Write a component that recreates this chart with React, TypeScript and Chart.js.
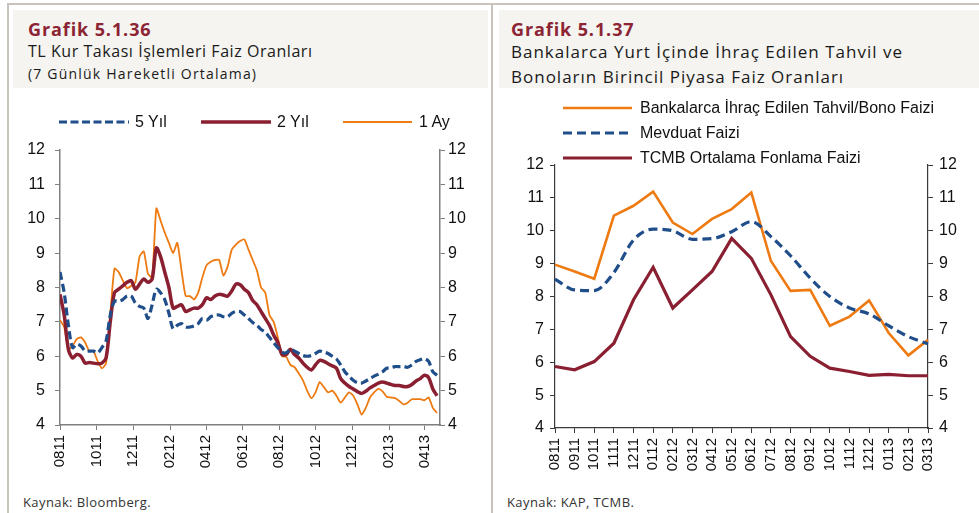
import React, { useEffect, useRef } from 'react';
import { Chart, registerables } from 'chart.js';
Chart.register(...registerables);

// ---------- Left chart data (weekly readings of 7-day moving averages) ----------
const leftStartDate = '2011-08-01';
const leftEndDate = '2013-04-27';
const leftTickLabels = ['0811', '1011', '1211', '0212', '0412', '0612', '0812', '1012', '1212', '0213', '0413'];
const leftSeriesNames = ['5 Yıl', '2 Yıl', '1 Ay'];

const fiveYear = [
  8.45, 7.85, 6.9, 6.25, 6.35, 6.3, 6.15, 6.15, 6.15, 6.1,
  6.25, 6.45, 7.2, 7.6, 7.6, 7.65, 7.75, 7.75, 7.55, 7.45,
  7.4, 7.1, 7.5, 7.95, 7.85, 7.65, 7.25, 6.8, 6.9, 6.95,
  6.85, 6.85, 6.88, 6.95, 7.1, 7.05, 7.15, 7.2, 7.2, 7.15,
  7.15, 7.25, 7.3, 7.3, 7.2, 7.1, 6.98, 6.9, 6.78, 6.7,
  6.55, 6.4, 6.25, 6.12, 6.1, 6.2, 6.15, 6.08, 6.02, 6.0,
  6.02, 6.08, 6.15, 6.12, 6.08, 6.0, 5.92, 5.75, 5.55, 5.42,
  5.3, 5.23, 5.22, 5.28, 5.35, 5.42, 5.48, 5.55, 5.65, 5.67,
  5.7, 5.7, 5.7, 5.68, 5.75, 5.85, 5.9, 5.93, 5.85, 5.55,
  5.45,
];

const twoYear = [
  7.8, 7.2, 6.2, 5.95, 6.05, 6.0, 5.8, 5.82, 5.8, 5.78,
  5.8, 5.95, 7.0, 7.85, 7.95, 8.05, 8.15, 8.2, 7.95, 8.1,
  8.25, 8.15, 8.25, 9.15, 8.9, 8.45, 8.0, 7.4, 7.45, 7.5,
  7.3, 7.35, 7.4, 7.4, 7.5, 7.7, 7.65, 7.75, 7.8, 7.78,
  7.75, 7.9, 8.1, 8.08, 7.95, 7.85, 7.62, 7.5, 7.3, 7.1,
  6.9, 6.62, 6.4, 6.05, 6.05, 6.2, 6.05, 5.95, 5.8, 5.68,
  5.6, 5.75, 5.88, 5.85, 5.78, 5.72, 5.65, 5.35, 5.22, 5.12,
  5.05, 4.97, 4.92, 4.98, 5.08, 5.15, 5.22, 5.25, 5.22, 5.18,
  5.15, 5.15, 5.12, 5.12, 5.18, 5.28, 5.35, 5.45, 5.38, 5.05,
  4.85,
];

const oneMonth = [
  7.05, 6.85, 6.2, 6.3, 6.5, 6.55, 6.4, 6.15, 6.15, 5.85,
  5.65, 5.8, 7.2, 8.55, 8.45, 8.2, 7.98, 8.05, 8.15, 8.9,
  9.05, 8.4, 8.3, 10.3, 9.95, 9.6, 9.3, 9.0, 9.3, 8.5,
  7.75, 7.75, 7.65, 7.85, 8.3, 8.65, 8.75, 8.8, 8.8, 8.35,
  8.6, 9.1, 9.25, 9.35, 9.4, 9.1, 8.8, 8.5, 8.0, 7.85,
  7.2, 7.0, 6.55, 6.0, 5.98, 5.75, 5.68, 5.5, 5.3, 5.0,
  4.78, 4.95, 5.25, 5.1, 4.95, 5.0, 4.85, 4.65, 4.8, 4.95,
  4.85, 4.6, 4.3, 4.5, 4.8, 4.95, 5.05, 4.98, 4.82, 4.8,
  4.78, 4.7, 4.6, 4.65, 4.75, 4.75, 4.75, 4.72, 4.8, 4.5,
  4.35,
];

// ---------- Right chart data (monthly) ----------
const rightCategories = [
  '0811', '0911', '1011', '1111', '1211', '0112', '0212', '0312', '0412', '0512',
  '0612', '0712', '0812', '0912', '1012', '1112', '1212', '0113', '0213', '0313',
];
const rightSeriesNames = ['Bankalarca İhraç Edilen Tahvil/Bono Faizi', 'Mevduat Faizi', 'TCMB Ortalama Fonlama Faizi'];
const bankBondRate = [8.97, 8.76, 8.54, 10.46, 10.76, 11.19, 10.25, 9.9, 10.36, 10.66, 11.16, 9.08, 8.17, 8.2, 7.11, 7.39, 7.88, 6.89, 6.21, 6.68];
const depositRate = [8.53, 8.2, 8.18, 8.73, 9.72, 10.05, 10.0, 9.74, 9.76, 9.97, 10.28, 9.82, 9.24, 8.56, 8.0, 7.65, 7.47, 7.11, 6.78, 6.56];
const cbrtFundingRate = [5.87, 5.77, 6.02, 6.58, 7.9, 8.89, 7.65, 8.2, 8.76, 9.77, 9.16, 8.05, 6.78, 6.18, 5.82, 5.72, 5.6, 5.63, 5.59, 5.59];

const BLUE = '#1F4E8A';
const RED = '#8A1F31';
const ORANGE = '#EE7A12';
const HEADER_BG = '#F5F4F0';
const FRAME = '#C9C4BB';
const TITLE_RED = '#8C2434';
const HEAD_FONT = '"Open Sans", "DejaVu Sans", sans-serif';
const AXIS_FONT = '"Liberation Sans", Arial, sans-serif';

const DAY = 86400000;
const dayOffset = (iso: string) => (Date.parse(iso) - Date.parse(leftStartDate)) / DAY;
const labelToDay = (lab: string) => {
  const mm = parseInt(lab.slice(0, 2), 10);
  const yy = parseInt(lab.slice(2), 10);
  return (Date.UTC(2000 + yy, mm - 1, 1) - Date.parse(leftStartDate)) / DAY;
};

function LeftChart() {
  const ref = useRef<HTMLCanvasElement>(null);
  useEffect(() => {
    const tickDays = leftTickLabels.map(labelToDay);
    const toXY = (arr: number[]) => arr.map((y, i) => ({ x: i * 7, y }));
    const axisColor = '#7F7F7F';
    const yAxis = (pos: 'left' | 'right', width: number, pad: number) => ({
      position: pos,
      min: 4,
      max: 12,
      afterFit: (s: any) => { s.width = width; },
      ticks: { stepSize: 1, color: '#111', font: { family: AXIS_FONT, size: 16 }, padding: pad },
      grid: { drawOnChartArea: false, drawTicks: true, tickLength: 5, color: axisColor, lineWidth: 1 },
      border: { display: true, color: axisColor, width: 1.5 },
    });
    const chart = new Chart(ref.current!, {
      type: 'line',
      data: {
        datasets: [
          { label: leftSeriesNames[0], data: toXY(fiveYear), borderColor: BLUE, borderWidth: 3.2, borderDash: [8, 4], pointRadius: 0, tension: 0.3, order: 0 },
          { label: leftSeriesNames[1], data: toXY(twoYear), borderColor: RED, borderWidth: 3.5, pointRadius: 0, tension: 0.3, order: 1 },
          { label: leftSeriesNames[2], data: toXY(oneMonth), borderColor: ORANGE, borderWidth: 1.8, pointRadius: 0, tension: 0.2, order: 2 },
        ],
      },
      options: {
        animation: false,
        responsive: false,
        maintainAspectRatio: false,
        layout: { padding: { top: 50, left: 0, right: 0, bottom: 0 } },
        plugins: { legend: { display: false }, tooltip: { enabled: false } },
        scales: {
          x: {
            type: 'linear',
            min: 0,
            max: dayOffset(leftEndDate),
            afterBuildTicks: (s: any) => { s.ticks = tickDays.map((v) => ({ value: v })); },
            afterFit: (s: any) => { s.height = 65; },
            ticks: {
              autoSkip: false,
              minRotation: 90,
              maxRotation: 90,
              color: '#111',
              font: { family: AXIS_FONT, size: 15 },
              padding: 5,
              callback: (_v: any, i: number) => leftTickLabels[i],
            },
            grid: { drawOnChartArea: false, drawTicks: true, tickLength: 5, color: axisColor },
            border: { display: true, color: axisColor, width: 1.5 },
          },
          y: yAxis('left', 60, 10) as any,
          y2: yAxis('right', 50, 3) as any,
        },
      },
    });
    return () => chart.destroy();
  }, []);
  return <canvas ref={ref} width={490} height={390} style={{ position: 'absolute', left: 0, top: 100, width: 490, height: 390 }} />;
}

function RightChart() {
  const ref = useRef<HTMLCanvasElement>(null);
  useEffect(() => {
    const axisColor = '#3A3A3A';
    const yAxis = (pos: 'left' | 'right', width: number) => ({
      position: pos,
      min: 4,
      max: 12,
      afterFit: (s: any) => { s.width = width; },
      ticks: { stepSize: 1, color: '#111', font: { family: AXIS_FONT, size: 16 }, padding: 6 },
      grid: { drawOnChartArea: false, drawTicks: true, tickLength: 5, color: axisColor, lineWidth: 1 },
      border: { display: true, color: axisColor, width: 1.2 },
    });
    const chart = new Chart(ref.current!, {
      type: 'line',
      data: {
        labels: rightCategories,
        datasets: [
          { label: rightSeriesNames[0], data: bankBondRate, borderColor: ORANGE, borderWidth: 2.6, pointRadius: 0, tension: 0, order: 1 },
          { label: rightSeriesNames[1], data: depositRate, borderColor: BLUE, borderWidth: 3.2, borderDash: [9, 5], pointRadius: 0, cubicInterpolationMode: 'monotone', order: 0 },
          { label: rightSeriesNames[2], data: cbrtFundingRate, borderColor: RED, borderWidth: 3.2, pointRadius: 0, tension: 0, order: 2 },
        ],
      },
      options: {
        animation: false,
        responsive: false,
        maintainAspectRatio: false,
        layout: { padding: { top: 65, left: 0, right: 0, bottom: 0 } },
        plugins: { legend: { display: false }, tooltip: { enabled: false } },
        scales: {
          x: {
            type: 'category',
            offset: false,
            afterFit: (s: any) => { s.height = 62; },
            ticks: {
              autoSkip: false,
              minRotation: 90,
              maxRotation: 90,
              color: '#111',
              font: { family: AXIS_FONT, size: 15 },
              padding: 5,
            },
            grid: { drawOnChartArea: false, drawTicks: true, tickLength: 5, color: axisColor, offset: false },
            border: { display: true, color: axisColor, width: 1.2 },
          },
          y: yAxis('left', 65) as any,
          y2: yAxis('right', 51) as any,
        },
      },
    });
    return () => chart.destroy();
  }, []);
  return <canvas ref={ref} width={489} height={390} style={{ position: 'absolute', left: 490, top: 100, width: 489, height: 390 }} />;
}

function LegendLine({ x, y, color, dash, width, len }: { x: number; y: number; color: string; dash?: string; width: number; len: number }) {
  return (
    <svg style={{ position: 'absolute', left: x, top: y - 5 }} width={len} height={10}>
      <line x1={0} y1={5} x2={len} y2={5} stroke={color} strokeWidth={width} strokeDasharray={dash} />
    </svg>
  );
}

const txt = (left: number, top: number, size: number, extra: React.CSSProperties = {}): React.CSSProperties => ({
  position: 'absolute',
  left,
  top,
  fontSize: size,
  whiteSpace: 'nowrap',
  ...extra,
});

export default function App() {
  const legendFont: React.CSSProperties = { fontFamily: AXIS_FONT, color: '#111', lineHeight: '18px' };
  const head: React.CSSProperties = { fontFamily: HEAD_FONT, color: '#1a1a1a' };
  return (
    <div style={{ position: 'fixed', left: 0, top: 0, width: 979, height: 513, background: '#fff', overflow: 'hidden' }}>
      {/* frame lines */}
      <div style={{ position: 'absolute', left: 7, top: 3, width: 972, height: 1.5, background: FRAME }} />
      <div style={{ position: 'absolute', left: 7, top: 3, width: 1.5, height: 510, background: FRAME }} />
      <div style={{ position: 'absolute', left: 491, top: 3, width: 1.5, height: 510, background: FRAME }} />
      {/* headers */}
      <div style={{ position: 'absolute', left: 13, top: 10, width: 475, height: 78, background: HEADER_BG }} />
      <div style={{ position: 'absolute', left: 499, top: 10, width: 480, height: 78, background: HEADER_BG }} />

      <div style={txt(28, 19, 18, { fontFamily: HEAD_FONT, fontWeight: 700, color: TITLE_RED, lineHeight: '20px', letterSpacing: 0.9 })}>Grafik 5.1.36</div>
      <div style={txt(28, 41, 16, { ...head, lineHeight: '20px', letterSpacing: 0.55 })}>TL Kur Takası İşlemleri Faiz Oranları</div>
      <div style={txt(28, 65, 14, { ...head, lineHeight: '18px', letterSpacing: 1.2 })}>(7 Günlük Hareketli Ortalama)</div>

      <div style={txt(511, 19, 18, { fontFamily: HEAD_FONT, fontWeight: 700, color: TITLE_RED, lineHeight: '20px', letterSpacing: 0.9 })}>Grafik 5.1.37</div>
      <div style={txt(511, 42, 17, { ...head, lineHeight: '20px', letterSpacing: 1.0 })}>Bankalarca Yurt İçinde İhraç Edilen Tahvil ve</div>
      <div style={txt(511, 67, 17, { ...head, lineHeight: '20px', letterSpacing: 1.0 })}>Bonoların Birincil Piyasa Faiz Oranları</div>

      <LeftChart />
      <RightChart />

      {/* left legend */}
      <LegendLine x={59} y={122} color={BLUE} dash="8 3.5" width={3} len={70} />
      <div style={txt(135, 113, 16, legendFont)}>{leftSeriesNames[0]}</div>
      <LegendLine x={201} y={122} color={RED} width={3.5} len={70} />
      <div style={txt(277, 113, 16, legendFont)}>{leftSeriesNames[1]}</div>
      <LegendLine x={343} y={122} color={ORANGE} width={1.8} len={69} />
      <div style={txt(419, 113, 16, legendFont)}>{leftSeriesNames[2]}</div>

      {/* right legend */}
      <LegendLine x={563} y={108} color={ORANGE} width={2.6} len={69} />
      <div style={txt(640, 99, 16, legendFont)}>{rightSeriesNames[0]}</div>
      <LegendLine x={563} y={133} color={BLUE} dash="9 5" width={3} len={69} />
      <div style={txt(640, 124, 16, legendFont)}>{rightSeriesNames[1]}</div>
      <LegendLine x={563} y={158} color={RED} width={3.2} len={69} />
      <div style={txt(640, 149, 16, legendFont)}>{rightSeriesNames[2]}</div>

      {/* sources */}
      <div style={txt(23, 494, 13, { ...head, color: '#333', lineHeight: '16px', letterSpacing: 0.4 })}>Kaynak: Bloomberg.</div>
      <div style={txt(507, 494, 13, { ...head, color: '#333', lineHeight: '16px', letterSpacing: 0.4 })}>Kaynak: KAP, TCMB.</div>
    </div>
  );
}
